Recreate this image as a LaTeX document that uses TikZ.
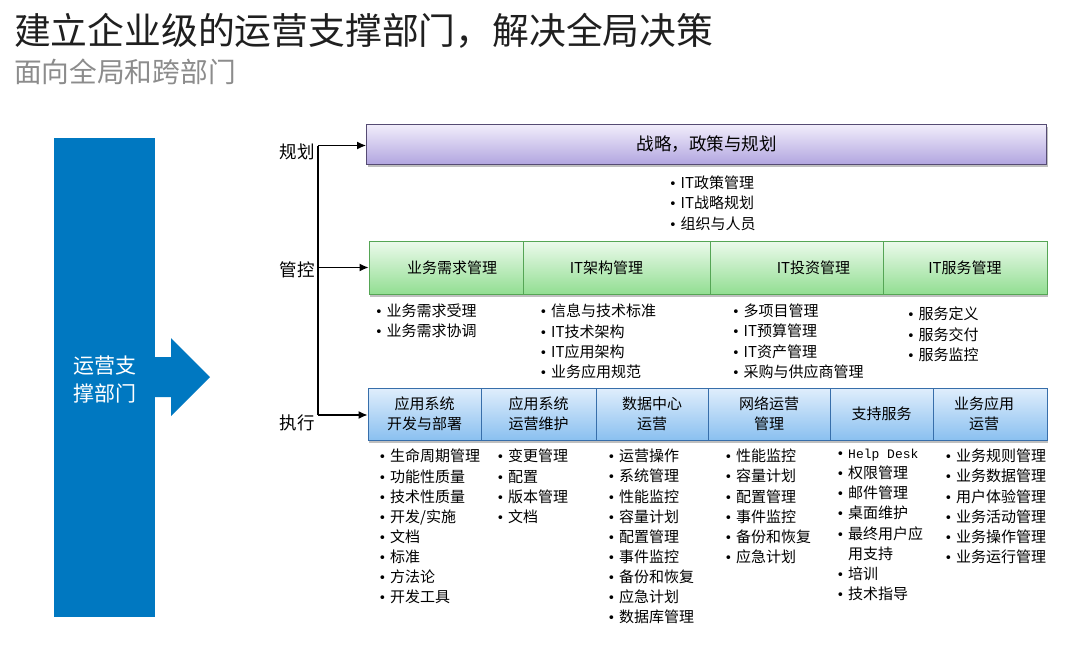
\documentclass[tikz,border=0pt]{standalone}
\usepackage{fontspec}
\setmainfont{Noto Sans CJK SC}
\newfontfamily\helpfont{Liberation Mono}
\newfontfamily\dotfont{DejaVu Sans}
\usetikzlibrary{arrows.meta,positioning,shadows}
\definecolor{deptblue}{RGB}{0,120,193}
\definecolor{purtop}{RGB}{242,238,251}
\definecolor{purbot}{RGB}{178,166,224}
\definecolor{purline}{RGB}{85,75,115}
\definecolor{grntop}{RGB}{236,250,236}
\definecolor{grnbot}{RGB}{146,222,146}
\definecolor{grnline}{RGB}{85,165,85}
\definecolor{blutop}{RGB}{224,238,252}
\definecolor{blubot}{RGB}{138,192,240}
\definecolor{bluline}{RGB}{55,110,170}
\definecolor{subgrey}{RGB}{140,140,140}
\newcommand{\itm}[1]{\makebox[11pt][l]{\hspace*{-0.6pt}\dotfont\fontsize{13}{13}\selectfont •}#1}
\newcommand{\cont}[1]{\makebox[11pt][l]{}#1}
\tikzset{
  boxshadow/.style={drop shadow={shadow xshift=1pt,shadow yshift=-2.5pt,opacity=0.25,fill=black}},
  purplebox/.style={draw=purline,line width=0.8pt,top color=purtop,bottom color=purbot,
    minimum height=40pt,inner sep=0pt,font=\fontsize{17.5}{20}\selectfont,boxshadow},
  greencell/.style={draw=grnline,line width=0.8pt,top color=grntop,bottom color=grnbot,
    minimum height=53pt,inner sep=0pt,font=\fontsize{15}{20}\selectfont,boxshadow},
  bluecell/.style={draw=bluline,line width=0.8pt,top color=blutop,bottom color=blubot,
    minimum height=52pt,inner sep=0pt,align=center,font=\fontsize{15}{20}\selectfont,boxshadow},
  sidelabel/.style={inner sep=0pt,font=\fontsize{17.5}{20}\selectfont},
  itemlist/.style={anchor=north west,align=left,inner sep=0pt,font=\fontsize{15}{20.1}\selectfont},
  flowarrow/.style={-{Latex[length=9pt,width=8pt]},line width=1.4pt},
}

\begin{document}
\begin{tikzpicture}[x=1pt,y=-1pt]
\useasboundingbox (0,0) rectangle (1074,645);

% titles
\node[anchor=west,inner sep=0pt,text=black!88,font=\fontsize{36.8}{40}\selectfont] (title) at (14,31) {建立企业级的运营支撑部门，解决全局决策};
\node[anchor=west,inner sep=0pt,text=subgrey,font=\fontsize{27.7}{30}\selectfont] (subtitle) at (14,72) {面向全局和跨部门};

% support department
\node[fill=deptblue,minimum width=101pt,minimum height=479pt,inner sep=0pt,align=center,
  text=white,font=\fontsize{21}{28}\selectfont] (dept) at (104.5,377.5) {\\[-6pt]运营支\\撑部门};
\fill[deptblue] (155,357) -- (171,357) -- (171,338) -- (210,377) -- (171,416) -- (171,397) -- (155,397) -- cycle;

% levels
\node[sidelabel] (plan) at (297,152) {规划};
\node[sidelabel] (ctrl) at (297,270) {管控};
\node[sidelabel] (exec) at (297,423) {执行};

% strategy
\node[purplebox,minimum width=680pt] (strat) at (706.5,144) {战略，政策与规划};
\node[itemlist] (stratlst) at (669.5,176) {\itm{IT政策管理}\\\itm{IT战略规划}\\\itm{组织与人员}};

% control row
\node[greencell,minimum width=154pt] (g1) at (446,267.5) {\hspace*{12pt}业务需求管理};
\node[greencell,minimum width=187pt] (g2) at (616.5,267.5) {IT架构管理\hspace*{20pt}};
\node[greencell,minimum width=173pt] (g3) at (796.5,267.5) {\hspace*{34pt}IT投资管理};
\node[greencell,minimum width=164pt] (g4) at (965,267.5) {IT服务管理};

\node[itemlist] (g1lst) at (375.5,304) {\itm{业务需求受理}\\\itm{业务需求协调}};
\node[itemlist] (g2lst) at (540,304) {\itm{信息与技术标准}\\\itm{IT技术架构}\\\itm{IT应用架构}\\\itm{业务应用规范}};
\node[itemlist] (g3lst) at (732.5,304) {\itm{多项目管理}\\\itm{IT预算管理}\\\itm{IT资产管理}\\\itm{采购与供应商管理}};
\node[itemlist] (g4lst) at (907.5,307) {\itm{服务定义}\\\itm{服务交付}\\\itm{服务监控}};

% execution row
\node[bluecell,minimum width=113pt] (b1) at (424.5,414) {应用系统\\开发与部署};
\node[bluecell,minimum width=115pt] (b2) at (538.5,414) {应用系统\\运营维护};
\node[bluecell,minimum width=112pt] (b3) at (652,414) {数据中心\\运营};
\node[bluecell,minimum width=122pt] (b4) at (769,414) {网络运营\\管理};
\node[bluecell,minimum width=103pt] (b5) at (881.5,414) {支持服务};
\node[bluecell,minimum width=114pt] (b6) at (990,414) {业务应用\hspace*{12pt}\\运营\hspace*{12pt}};

\node[itemlist] (b1lst) at (379,449) {\itm{生命周期管理}\\\itm{功能性质量}\\\itm{技术性质量}\\\itm{开发/实施}\\\itm{文档}\\\itm{标准}\\\itm{方法论}\\\itm{开发工具}};
\node[itemlist] (b2lst) at (497,449) {\itm{变更管理}\\\itm{配置}\\\itm{版本管理}\\\itm{文档}};
\node[itemlist] (b3lst) at (608,449) {\itm{运营操作}\\\itm{系统管理}\\\itm{性能监控}\\\itm{容量计划}\\\itm{配置管理}\\\itm{事件监控}\\\itm{备份和恢复}\\\itm{应急计划}\\\itm{数据库管理}};
\node[itemlist] (b4lst) at (725,449) {\itm{性能监控}\\\itm{容量计划}\\\itm{配置管理}\\\itm{事件监控}\\\itm{备份和恢复}\\\itm{应急计划}};
\node[itemlist] (b5lst) at (837,449) {\itm{{\helpfont\fontsize{13}{20.1}\selectfont Help Desk}}\\\itm{权限管理}\\\itm{邮件管理}\\\itm{桌面维护}\\\itm{最终用户应}\\\cont{用支持}\\\itm{培训}\\\itm{技术指导}};
\node[itemlist] (b6lst) at (945,449) {\itm{业务规则管理}\\\itm{业务数据管理}\\\itm{用户体验管理}\\\itm{业务活动管理}\\\itm{业务操作管理}\\\itm{业务运行管理}};

% connectors
\coordinate (jtop) at (318,145.5);
\coordinate (jbot) at (318,415);
\draw[line width=1.4pt] (jtop) -- (jbot);
\draw[flowarrow] (jtop) -- (jtop -| strat.west);
\draw[flowarrow] (jtop |- g1.west) -- (g1.west);
\draw[flowarrow] (jbot) -- (jbot -| b1.west);
\end{tikzpicture}
\end{document}
